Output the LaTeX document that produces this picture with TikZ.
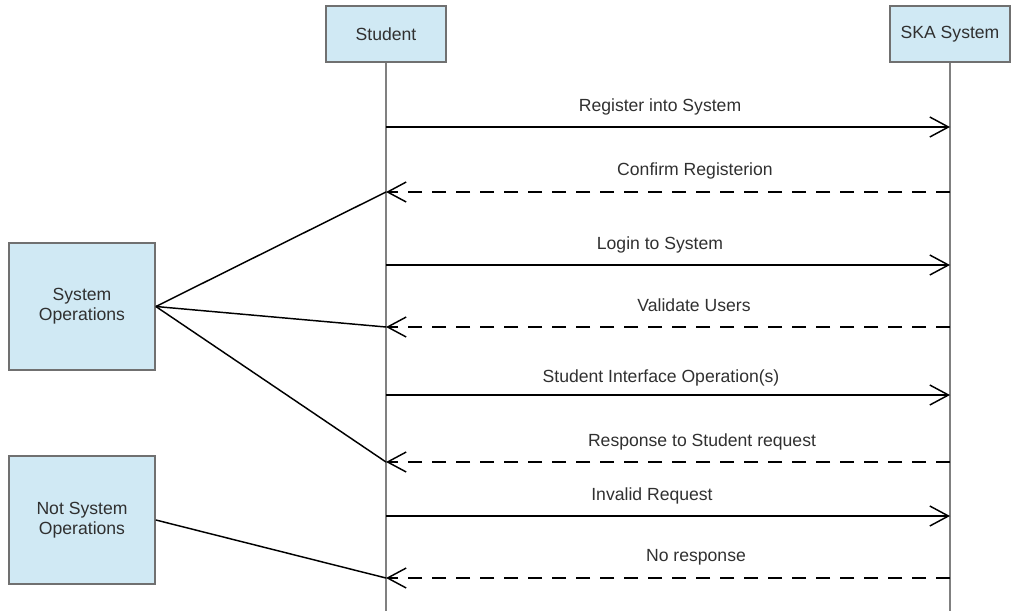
\documentclass[tikz,border=0pt]{standalone}
\usepackage{fontspec}
\setmainfont{Liberation Sans}
\definecolor{boxblue}{RGB}{208, 233, 244}
\definecolor{boxgray}{RGB}{112, 112, 112}
\definecolor{lifegray}{RGB}{128, 128, 128}
\definecolor{textgray}{RGB}{48, 48, 48}
\usetikzlibrary{arrows.meta, positioning, calc}

\tikzset{
  lanebox/.style={draw=boxgray, fill=boxblue, line width=1.3pt, align=center, text=textgray,
    font=\fontsize{13.2}{15}\selectfont},
  msglabel/.style={anchor=base, text=textgray, font=\fontsize{13.2}{15}\selectfont, inner sep=0pt},
  callmsg/.style={line width=1.1pt, -{Straight Barb[length=14pt, width=15pt, line width=1.1pt]}},
  replymsg/.style={callmsg, dash pattern=on 10.5pt off 7.5pt},
  linkline/.style={line width=1.1pt}
}

\begin{document}
\begin{tikzpicture}[x=0.75pt, y=-0.75pt]
  \useasboundingbox (0,0) rectangle (1028,611);

  % Lifeline heads
  \node[lanebox, minimum width=90pt, minimum height=42pt] (student) at (386, 34) {Student};
  \node[lanebox, minimum width=90pt, minimum height=42pt] (ska) at (950, 34) {SKA System};

  % Lifelines
  \coordinate (studentend) at (386, 611);
  \coordinate (skaend) at (950, 611);
  \draw[lifegray, line width=1.2pt] (student.south) -- (studentend);
  \draw[lifegray, line width=1.2pt] (ska.south) -- (skaend);

  % Message ends on the lifelines
  \foreach \y [count=\i] in {127, 192, 265, 327, 395, 462, 516, 578} {
    \coordinate (s\i) at (386, \y);
    \coordinate (k\i) at (950, \y);
  }

  % Messages
  \draw[callmsg] (s1) -- (k1);
  \node[msglabel] (lbl1) at (660, 111) {Register into System};
  \draw[replymsg] (k2) -- (s2);
  \node[msglabel] (lbl2) at (695, 175) {Confirm Registerion};
  \draw[callmsg] (s3) -- (k3);
  \node[msglabel] (lbl3) at (660, 249) {Login to System};
  \draw[replymsg] (k4) -- (s4);
  \node[msglabel] (lbl4) at (694, 311) {Validate Users};
  \draw[callmsg] (s5) -- (k5);
  \node[msglabel] (lbl5) at (661, 382) {Student Interface Operation(s)};
  \draw[replymsg] (k6) -- (s6);
  \node[msglabel] (lbl6) at (702, 446) {Response to Student request};
  \draw[callmsg] (s7) -- (k7);
  \node[msglabel] (lbl7) at (652, 500) {Invalid Request};
  \draw[replymsg] (k8) -- (s8);
  \node[msglabel] (lbl8) at (696, 561) {No response};

  % Operation groups
  \node[lanebox, minimum width=109.5pt, minimum height=95.25pt] (sysops) at (82, 306.5) {System\\Operations};
  \node[lanebox, minimum width=109.5pt, minimum height=96pt] (notsysops) at (82, 520) {Not System\\Operations};

  \draw[linkline] (sysops.east) -- (s2);
  \draw[linkline] (sysops.east) -- (s4);
  \draw[linkline] (sysops.east) -- (s6);
  \draw[linkline] (notsysops.east) -- (s8);
\end{tikzpicture}
\end{document}
